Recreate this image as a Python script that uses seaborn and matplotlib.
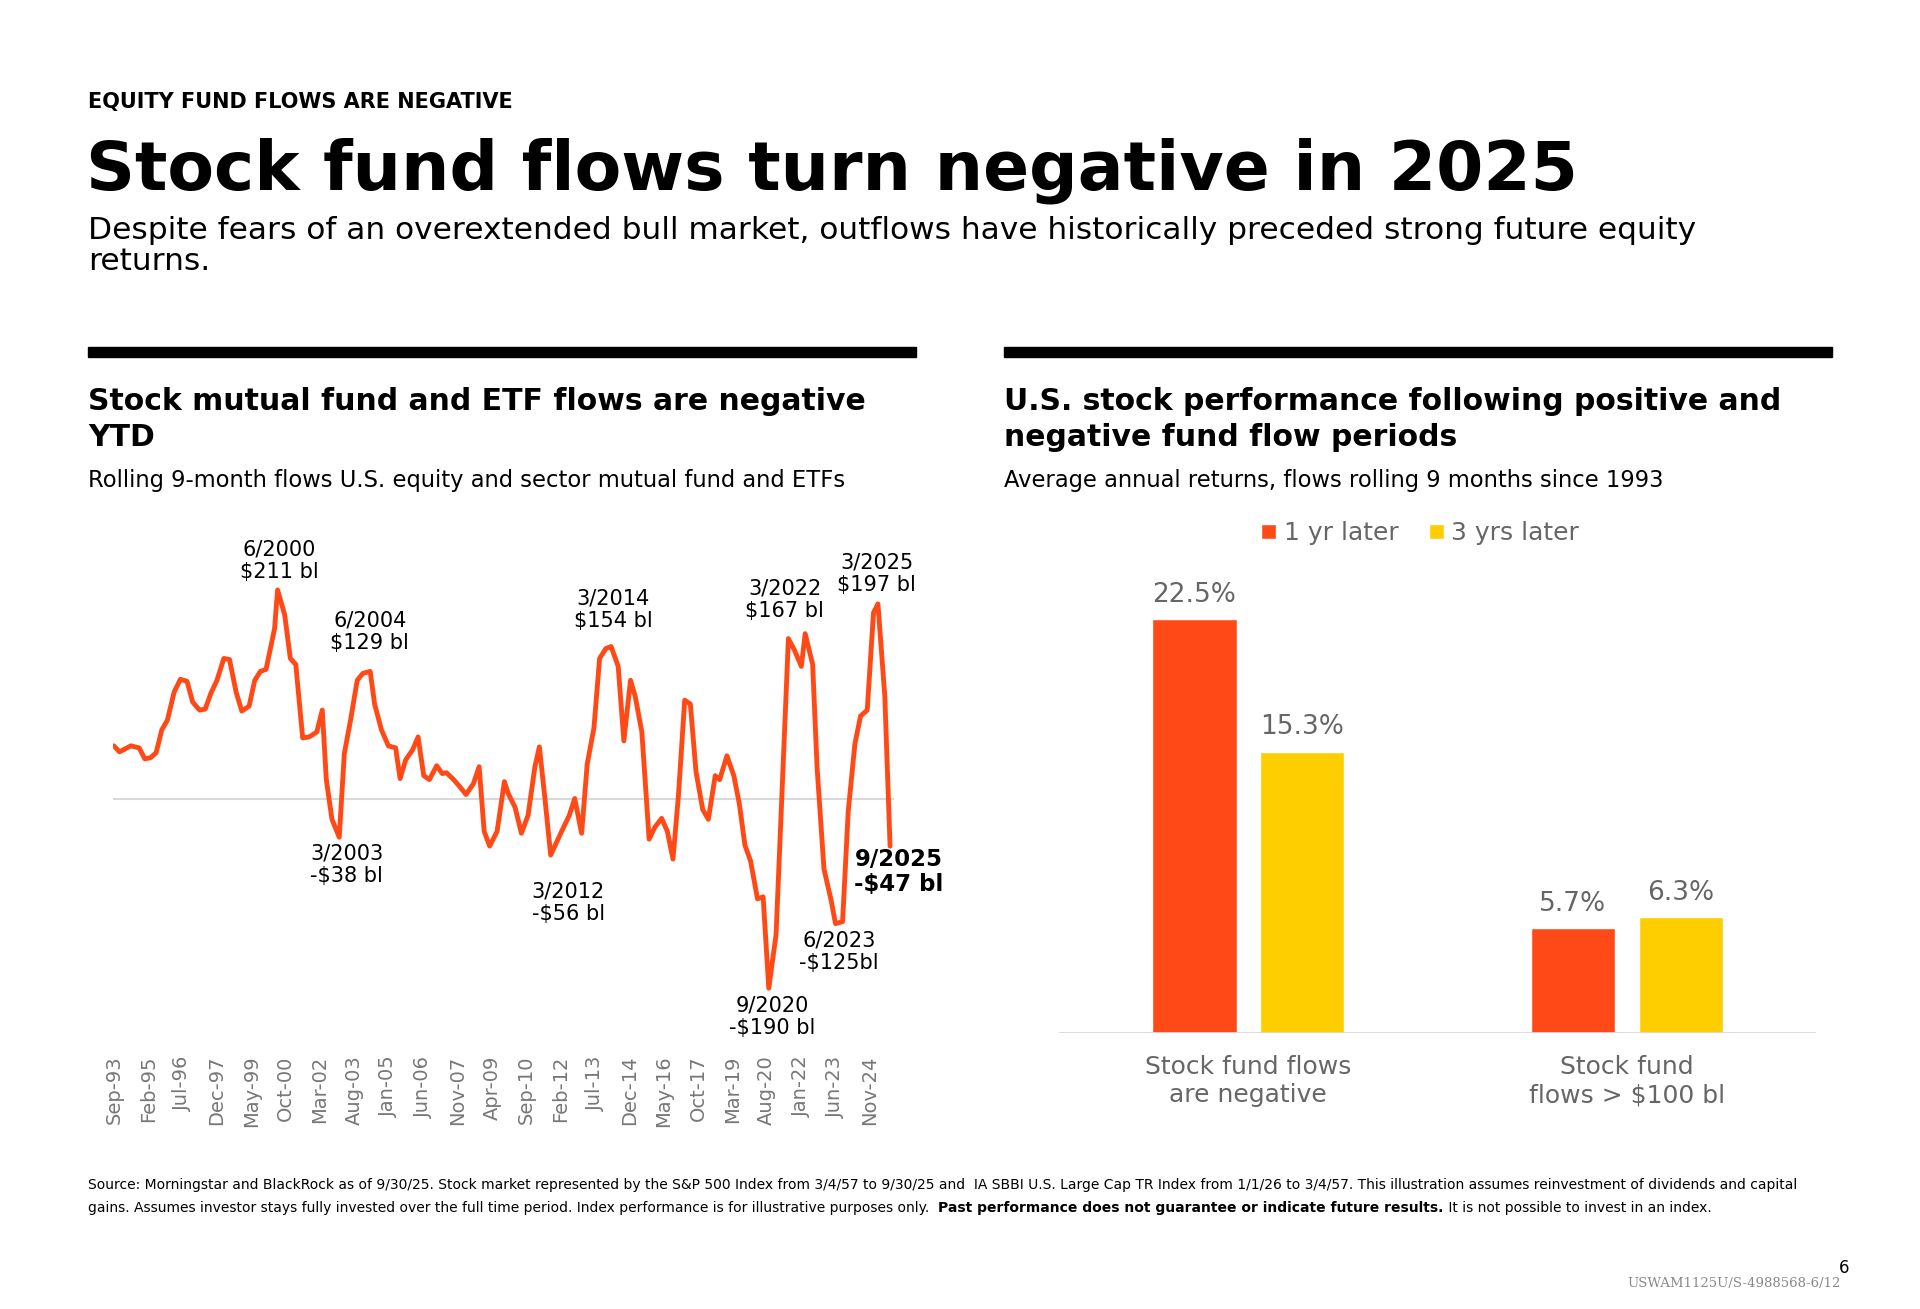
import matplotlib
matplotlib.use("Agg")
import matplotlib.pyplot as plt
import seaborn as sns
import pandas as pd
from matplotlib.patches import Rectangle

# rolling 9-month flows, months since Sep-93, $ bl
months = [0, 2.8, 8.4, 12.5, 15.3, 18.1, 20.9, 23.7, 26.5, 29.8, 32.9, 36.2, 39, 42.4, 45.2, 48, 51,
          54.4, 57.2, 60.5, 63.3, 66.9, 69.7, 72.5, 75.3, 79.5, 81, 84.5, 87.3, 90, 93.4, 96.7, 100.4,
          103.1, 105.1, 107.9, 111.5, 114, 117.1, 120.4, 123.2, 126.8, 129, 132.4, 135.8, 139.4,
          141.6, 144.4, 147.8, 150.5, 153.3, 156.1, 159.7, 162.5, 164.5, 168.1, 171.5, 174.2, 177.9,
          180.7, 183.2, 185.9, 189.6, 193.2, 195.1, 198.5, 201.6, 204.9, 208.3, 210.5, 213.3, 216.1,
          222, 225.3, 228, 231.4, 234.2, 237.5, 240.3, 243.4, 246, 249.5, 252.3, 255.6, 257.9,
          261.2, 264.8, 267.6, 271, 273.8, 276.6, 279.3, 282.4, 285.2, 288, 291.3, 294.1, 297.5,
          299.7, 303.3, 306.7, 309.4, 312.2, 315, 318.4, 321.2, 324, 327.6, 330.4, 333.7, 336.8,
          340.1, 342, 345.7, 347.9, 351.3, 354.9, 357, 360.5, 363.3, 366.6, 369.4, 372.7, 375.8,
          378, 381.4, 384]
flows = [54, 48, 54, 52, 41, 42, 47, 70, 80, 108, 121, 119, 98, 90, 91, 107, 120,
         142, 141, 108, 89, 94, 120, 129, 131, 172, 211, 186, 142, 136, 62, 63, 68,
         90, 20, -20, -38, 46, 80, 120, 127, 129, 96, 70, 54, 52, 21, 40, 50, 63, 24,
         20, 34, 26, 27, 20, 12, 5, 16, 33, -32, -47, -32, 18, 6, -8, -34, -16, 33, 53,
         0, -56, -30, -16, 1, -34, 36, 72, 142, 152, 154, 134, 59, 120, 104, 68, -40, -28,
         -19, -32, -60, 4, 100, 96, 28, -10, -20, 24, 20, 44, 24, -4, -46, -62, -100, -98,
         -190, -136, 0, 162, 150, 134, 167, 136, 32, -70, -102, -125, -123, -12, 56, 84, 90,
         188, 197, 104, -47]
tick_months = list(range(0, 375, 17))
tick_labels = ["Sep-93", "Feb-95", "Jul-96", "Dec-97", "May-99", "Oct-00", "Mar-02", "Aug-03",
               "Jan-05", "Jun-06", "Nov-07", "Apr-09", "Sep-10", "Feb-12", "Jul-13", "Dec-14",
               "May-16", "Oct-17", "Mar-19", "Aug-20", "Jan-22", "Jun-23", "Nov-24"]

annot_texts = ["6/2000\n$211 bl", "6/2004\n$129 bl", "3/2003\n-$38 bl", "3/2014\n$154 bl",
               "3/2012\n-$56 bl", "3/2022\n$167 bl", "3/2025\n$197 bl", "9/2020\n-$190 bl",
               "6/2023\n-$125bl"]
# label centre x, top y (reference layout px)
annot_pos = [(228, 440), (302, 498), (283, 688), (501, 480), (464, 719),
             (641, 472), (716, 451), (631, 812), (685, 759)]

groups = ["Stock fund flows\nare negative", "Stock fund\nflows > $100 bl"]
series = ["1 yr later", "3 yrs later"]
returns_1yr = [22.5, 5.7]
returns_3yr = [15.3, 6.3]

ORANGE = "#FF4A17"
YELLOW = "#FFCE00"
GRAY = "#666666"

sns.set_theme(style="white")
plt.rcParams["font.family"] = ["DejaVu Sans"]
plt.rcParams["text.color"] = "black"

fig = plt.figure(figsize=(19.2, 13.09), dpi=100)

def fx(x):
    return x / 1568

def fy(y):
    return 1 - y / 1068

fig.text(fx(72), fy(75), "EQUITY FUND FLOWS ARE NEGATIVE", fontsize=15, fontweight="bold", va="top")
fig.text(fx(70), fy(112), "Stock fund flows turn negative in 2025", fontsize=49, fontweight="heavy", va="top")
fig.text(fx(72), fy(176), "Despite fears of an overextended bull market, outflows have historically preceded strong future equity\nreturns.",
         fontsize=22.5, va="top", linespacing=1.1)

for x0 in (72, 820):
    fig.add_artist(Rectangle((fx(x0), fy(291)), fx(676), 8 / 1068, color="black", transform=fig.transFigure))

fig.text(fx(72), fy(316), "Stock mutual fund and ETF flows are negative\nYTD", fontsize=21.5, fontweight="bold", va="top", linespacing=1.3)
fig.text(fx(72), fy(383), "Rolling 9-month flows U.S. equity and sector mutual fund and ETFs", fontsize=16.3, va="top")
fig.text(fx(820), fy(316), "U.S. stock performance following positive and\nnegative fund flow periods", fontsize=21.5, fontweight="bold", va="top", linespacing=1.3)
fig.text(fx(820), fy(383), "Average annual returns, flows rolling 9 months since 1993", fontsize=16.3, va="top")

# left: line chart
ax = fig.add_axes([fx(92), fy(850), fx(750 - 92), (850 - 440) / 1068])
df = pd.DataFrame({"month": months, "flow": flows})
ax.hlines(0, -0.6, 386, color="#d9d9d9", lw=1.5, zorder=1)
sns.lineplot(data=df, x="month", y="flow", color=ORANGE, lw=3.5, ax=ax, zorder=3)
ax.set_xlim(-0.6, 398)
ax.set_ylim(-244, 262)
ax.set_xticks(tick_months)
ax.set_xticklabels(tick_labels, rotation=90, fontsize=14, color="#777777")
ax.tick_params(axis="x", length=0, pad=10)
ax.set_yticks([])
ax.set_xlabel("")
ax.set_ylabel("")
sns.despine(ax=ax, left=True, bottom=True)

for txt, (x, y) in zip(annot_texts, annot_pos):
    fig.text(fx(x), fy(y), txt, fontsize=15, ha="center", va="top", linespacing=1.15)
fig.text(fx(734), fy(692), "9/2025\n-$47 bl", fontsize=16.5, fontweight="bold", ha="center", va="top", linespacing=1.1)

# right: bar chart
ax2 = fig.add_axes([fx(865), fy(843), fx(618), (843 - 460) / 1068])
bars = pd.DataFrame({"group": groups * 2, "series": [series[0]] * 2 + [series[1]] * 2,
                     "ret": returns_1yr + returns_3yr})
sns.barplot(data=bars, x="group", y="ret", hue="series", palette=[ORANGE, YELLOW],
            width=0.57, gap=0.22, saturation=1, ax=ax2, legend=True)
ax2.set_xlim(-0.5, 1.5)
ax2.set_ylim(0, 25.5)
ax2.axhline(0, color="#d9d9d9", lw=2)
for cont in ax2.containers:
    ax2.bar_label(cont, fmt="%.1f%%", padding=8, fontsize=19, color=GRAY)
ax2.set_yticks([])
ax2.set_xlabel("")
ax2.set_ylabel("")
ax2.tick_params(axis="x", length=0, pad=16)
for lbl in ax2.get_xticklabels():
    lbl.set_fontsize(18)
    lbl.set_color(GRAY)
sns.despine(ax=ax2, left=True, bottom=True)
leg = ax2.legend(loc="center", bbox_to_anchor=(0.477, 1.065), ncol=2, frameon=False, fontsize=18,
                 handlelength=0.6, handleheight=0.6, handletextpad=0.3, columnspacing=1.2)
for t in leg.get_texts():
    t.set_color(GRAY)

# footnote
foot1 = ("Source: Morningstar and BlackRock as of 9/30/25. Stock market represented by the S&P 500 Index from 3/4/57 to 9/30/25 and  "
         "IA SBBI U.S. Large Cap TR Index from 1/1/26 to 3/4/57. This illustration assumes reinvestment of dividends and capital")
foot2a = "gains. Assumes investor stays fully invested over the full time period. Index performance is for illustrative purposes only.  "
foot2b = "Past performance does not guarantee or indicate future results."
foot2c = " It is not possible to invest in an index."
fig.text(fx(72), fy(961), foot1, fontsize=10.0, va="top")
t1 = fig.text(fx(72), fy(980), foot2a, fontsize=10.0, va="top")
fig.canvas.draw()
r = fig.canvas.get_renderer()
bb = t1.get_window_extent(r).transformed(fig.transFigure.inverted())
t2 = fig.text(bb.x1, fy(980), foot2b, fontsize=10.0, va="top", fontweight="bold")
bb2 = t2.get_window_extent(r).transformed(fig.transFigure.inverted())
fig.text(bb2.x1, fy(980), foot2c, fontsize=10.0, va="top")

fig.text(fx(1510), fy(1027), "6", fontsize=12, ha="right", va="top")
fig.text(fx(1503), fy(1042), "USWAM1125U/S-4988568-6/12", fontsize=9.5, ha="right", va="top",
         family="DejaVu Serif", color="#888888")

fig.savefig("out.png", dpi=100, facecolor="white")
